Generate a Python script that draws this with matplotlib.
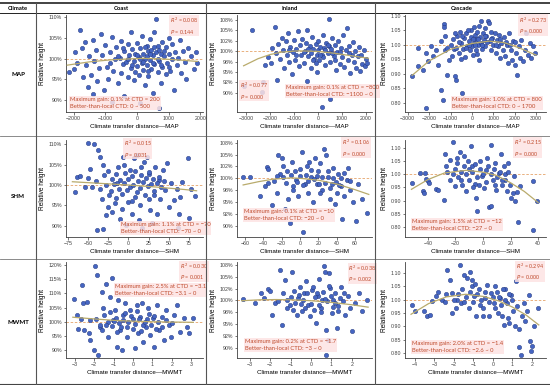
import numpy as np
import matplotlib
matplotlib.use("Agg")
import matplotlib.pyplot as plt
from matplotlib.lines import Line2D

W, H = 550, 385

# ---------------- data ----------------
columns = ["Coast", "Inland", "Cascade"]
rows = ["MAP", "SHM", "MWMT"]

# Coast / MAP  (relative height in %)
coast_map_pts = [
    (-2150, 96.8), (-2000, 97.5), (-1950, 101.5), (-1900, 99.0), (-1800, 106.8), (-1750, 102.5),
    (-1700, 95.5), (-1650, 104.0), (-1600, 98.5), (-1550, 93.2), (-1500, 100.5), (-1450, 96.0),
    (-1400, 104.5), (-1400, 91.5), (-1350, 99.5), (-1300, 102.0), (-1250, 94.5), (-1200, 97.8),
    (-1150, 106.0), (-1100, 100.8), (-1050, 92.5), (-1000, 103.2), (-950, 98.0), (-900, 95.0),
    (-850, 101.5), (-800, 105.2), (-800, 89.5), (-750, 97.0), (-700, 99.8), (-650, 102.8),
    (-600, 94.0), (-550, 100.2), (-500, 104.2), (-500, 96.5), (-450, 98.8), (-400, 101.8),
    (-400, 91.0), (-350, 99.2), (-300, 103.5), (-300, 95.5), (-250, 100.8), (-200, 97.8),
    (-200, 106.5), (-150, 102.2), (-100, 99.5), (-100, 94.8), (-50, 101.0), (0, 98.2),
    (0, 103.8), (50, 100.3), (50, 96.0), (100, 102.5), (100, 89.2), (150, 99.0), (150, 105.5),
    (200, 101.2), (200, 97.2), (250, 100.0), (250, 93.5), (300, 103.0), (300, 98.5), (350, 101.8),
    (350, 95.8), (400, 99.6), (400, 104.8), (450, 102.0), (450, 97.5), (500, 100.8), (500, 91.8),
    (550, 98.8), (550, 106.3), (600, 109.5), (600, 101.5), (650, 96.8), (650, 103.0), (700, 99.5),
    (700, 88.0), (750, 101.2), (750, 94.2), (800, 98.0), (800, 104.0), (850, 100.5), (900, 102.8),
    (900, 96.2), (950, 99.0), (1000, 105.0), (1000, 101.0), (1050, 97.0), (1100, 103.5),
    (1100, 99.8), (1150, 92.5), (1200, 101.5), (1250, 98.5), (1300, 100.2), (1350, 104.5),
    (1400, 96.5), (1450, 101.8), (1500, 99.2), (1550, 95.0), (1600, 102.5), (1700, 100.5),
    (1800, 97.5), (1850, 101.5), (1900, 99.0), (-600, 100.5), (-300, 100.0), (-150, 98.5),
    (0, 100.8), (100, 99.8), (200, 99.2), (300, 100.6), (400, 101.0), (500, 99.0), (650, 100.0),
    (750, 98.5), (850, 101.8), (1000, 98.0), (-850, 99.0), (-450, 102.5), (250, 102.8),
    (550, 102.8), (350, 97.0), (-50, 96.8), (700, 102.0),
]
coast_map_fit = [(-2200, 98.4), (-1500, 99.2), (-800, 99.7), (0, 100.0), (200, 100.05),
                 (800, 99.9), (1400, 99.6), (1900, 99.3)]

# Inland / MAP  (%)
inland_map_pts = [
    (-3100, 91.7), (-2750, 105.2), (-2350, 90.3), (-2300, 92.6), (-2200, 96.8), (-2100, 98.5),
    (-1950, 97.2), (-1900, 100.8), (-1800, 105.7), (-1750, 99.5), (-1700, 93.2), (-1650, 101.8),
    (-1600, 98.2), (-1500, 103.2), (-1450, 100.2), (-1400, 96.0), (-1350, 102.5), (-1300, 99.0),
    (-1250, 104.3), (-1200, 97.5), (-1150, 101.0), (-1100, 94.5), (-1050, 99.8), (-1000, 102.8),
    (-950, 98.0), (-900, 100.5), (-850, 104.8), (-800, 96.5), (-750, 101.5), (-700, 99.2),
    (-650, 103.0), (-600, 97.2), (-550, 100.0), (-500, 102.0), (-450, 105.2), (-450, 92.8),
    (-400, 98.8), (-350, 101.2), (-300, 99.5), (-300, 96.0), (-250, 103.5), (-200, 100.6),
    (-150, 98.2), (-100, 101.8), (-50, 99.0), (-50, 95.0), (0, 102.5), (0, 100.2), (50, 97.8),
    (100, 101.0), (150, 99.2), (170, 86.5), (200, 103.8), (200, 98.5), (250, 100.8), (300, 96.8),
    (350, 102.0), (400, 99.5), (450, 107.7), (450, 101.2), (500, 88.5), (500, 97.5), (550, 100.5),
    (600, 103.2), (650, 98.8), (700, 101.5), (750, 95.5), (800, 99.8), (850, 102.5), (900, 97.0),
    (950, 100.8), (1000, 98.5), (1050, 103.8), (1100, 96.2), (1150, 100.2), (1200, 105.5),
    (1250, 98.0), (1300, 101.2), (1350, 94.8), (1400, 99.0), (1450, 102.2), (1500, 97.5),
    (1550, 100.0), (1600, 96.0), (1650, 98.8), (1700, 101.0), (1750, 95.2), (1800, 99.2),
    (1850, 97.0), (1900, 100.2), (1950, 96.5), (2000, 98.2), (2050, 97.2), (-600, 99.8),
    (-200, 98.0), (100, 99.2), (300, 100.2), (600, 99.5), (900, 99.8), (-900, 99.0), (-400, 100.5),
    (1300, 99.6), (700, 98.0), (400, 101.5), (-100, 97.2), (-1200, 100.2),
]
inland_map_fit = [(-3100, 96.5), (-2500, 98.2), (-2000, 99.2), (-1500, 99.8), (-800, 100.1),
                  (0, 99.95), (700, 99.5), (1400, 98.9), (2100, 98.3)]

# Cascade / MAP  (ratio)
cascade_map_pts = [
    (-2800, 0.892), (-2520, 0.926), (-2520, 0.989), (-2290, 0.914), (-2150, 0.783), (-2130, 0.972),
    (-2060, 0.943), (-1930, 0.995), (-1820, 0.963), (-1670, 0.983), (-1590, 0.932), (-1460, 1.012),
    (-1430, 0.846), (-1350, 0.811), (-1310, 1.072), (-1310, 1.061), (-1280, 1.029), (-1280, 0.983),
    (-1150, 0.897), (-1090, 0.949), (-1000, 1.000), (-935, 0.963), (-840, 0.985), (-810, 0.892),
    (-730, 0.880), (-690, 1.029), (-620, 0.972), (-580, 1.046), (-500, 1.006), (-470, 0.834),
    (-420, 0.985), (-370, 1.023), (-310, 0.960), (-260, 1.041), (-220, 0.997), (-160, 1.012),
    (-110, 0.983), (-60, 1.052), (-30, 1.027), (0, 0.995), (45, 0.966), (90, 1.008), (125, 1.035),
    (170, 0.983), (200, 1.020), (250, 1.043), (280, 1.000), (310, 0.949), (360, 1.027), (400, 1.006),
    (440, 1.084), (470, 0.985), (510, 1.041), (560, 1.018), (590, 1.058), (620, 0.995), (670, 1.029),
    (750, 1.084), (780, 1.077), (830, 1.012), (870, 1.046), (900, 0.983), (950, 1.023), (1000, 1.000),
    (1060, 1.041), (1110, 0.972), (1150, 1.018), (1210, 0.995), (1260, 1.035), (1310, 0.955),
    (1370, 1.008), (1430, 0.983), (1500, 1.027), (1560, 0.963), (1620, 1.000), (1680, 0.937),
    (1740, 1.041), (1810, 0.983), (1870, 0.949), (1930, 1.012), (1990, 0.932), (2070, 0.972),
    (2120, 0.897), (2180, 0.995), (2240, 0.955), (2310, 1.018), (2380, 0.943), (2460, 0.983),
    (2540, 1.041), (2620, 0.966), (2690, 1.006), (2770, 0.955), (2850, 0.995), (2960, 0.972),
    (-900, 1.020), (-750, 0.990), (-600, 1.010), (-450, 1.030), (-300, 0.990), (-150, 1.000),
    (50, 1.020), (150, 1.000), (300, 1.020), (450, 1.000), (600, 1.030), (700, 1.010), (900, 1.020),
    (1100, 1.000), (1300, 1.020), (1600, 1.010), (-800, 1.040), (-200, 1.050), (100, 1.060),
    (350, 1.065), (-1150, 0.990), (1800, 1.000), (2000, 1.010), (-500, 0.950), (250, 0.970),
]
cascade_map_fit = [(-2800, 0.895), (-2000, 0.945), (-1000, 0.985), (0, 1.005), (800, 1.013),
                   (1500, 1.008), (2200, 0.990), (3000, 0.965)]

# Coast / SHM  (%)
coast_shm_pts = [
    (-66.7, 98.3), (-63.8, 102.0), (-60.4, 102.2), (-54.2, 99.6), (-50.8, 101.6), (-47.9, 104.0),
    (-50.0, 110.2), (-42.5, 110.0), (-39.6, 88.9), (-32.0, 89.2), (-37.5, 108.5), (-35.4, 106.9),
    (-31.3, 104.9), (-27.9, 92.6), (-25.0, 94.7), (-23.8, 97.5), (-20.8, 93.4), (-16.7, 95.5),
    (-14.6, 100.4), (-12.5, 104.4), (-10.4, 91.8), (-8.3, 94.2), (-6.3, 106.9), (-2.9, 90.2),
    (0.0, 95.9), (2.1, 103.6), (4.2, 93.0), (6.3, 106.5), (8.3, 97.1), (10.4, 107.3), (12.5, 91.4),
    (14.6, 95.1), (16.7, 89.6), (18.8, 105.7), (22.9, 106.9), (25.0, 102.8), (27.1, 93.8),
    (29.2, 90.6), (31.3, 97.5), (33.3, 104.4), (35.4, 93.0), (37.5, 101.2), (39.6, 96.7),
    (42.9, 103.6), (45.8, 98.7), (47.9, 105.3), (50.0, 94.7), (52.9, 100.4), (56.3, 96.3),
    (60.4, 99.1), (62.5, 93.0), (64.6, 97.1), (66.7, 100.8), (62.0, 89.5), (74.0, 106.5),
    (78.0, 99.0), (76.0, 92.0), (83.0, 97.2), (-40, 101.0), (-35, 99.0), (-30, 102.5), (-28, 100.0),
    (-25, 103.5), (-22, 98.5), (-20, 101.5), (-18, 100.2), (-15, 102.8), (-12, 99.0), (-10, 101.2),
    (-8, 97.8), (-6, 100.5), (-4, 103.0), (-2, 98.8), (0, 101.5), (2, 99.5), (4, 102.2), (6, 100.0),
    (8, 103.5), (10, 98.2), (12, 101.0), (14, 99.2), (16, 102.5), (18, 100.8), (20, 97.5),
    (22, 101.8), (24, 99.8), (26, 103.2), (28, 100.3), (30, 101.5), (32, 98.5), (35, 100.5),
    (38, 102.0), (40, 99.5), (44, 101.0), (-45, 99.5), (-33, 96.5), (-15, 96.8), (5, 96.2),
    (25, 96.5), (-5, 104.8), (15, 104.5),
]
coast_shm_fit = [(-70, 100.8), (-35, 100.4), (0, 100.0), (35, 99.5), (70, 98.9), (85, 98.6)]

# Inland / SHM  (%)
inland_shm_pts = [
    (-61.8, 100.2), (-54.5, 100.2), (-43.6, 96.3), (-38.2, 98.3), (-36.4, 102.3), (-34.5, 101.9),
    (-30.2, 94.3), (-25.5, 96.9), (-23.6, 104.9), (-20.0, 104.2), (-18.2, 100.2), (-16.4, 93.6),
    (-14.5, 101.6), (-12.7, 95.6), (-10.9, 90.5), (-9.1, 103.5), (-7.3, 98.3), (-4.7, 99.6),
    (-2.5, 96.3), (0.0, 102.0), (2.5, 105.5), (3.6, 88.7), (5.5, 98.9), (7.3, 102.5), (9.1, 96.9),
    (12.0, 100.2), (14.5, 94.9), (16.4, 104.2), (18.2, 98.9), (20.0, 101.6), (21.8, 103.2),
    (24.4, 97.6), (26.5, 106.3), (28.0, 104.9), (30.2, 100.2), (32.7, 95.6), (34.5, 98.9),
    (36.4, 102.2), (38.2, 94.6), (40.0, 96.9), (41.8, 100.9), (44.7, 98.3), (46.2, 91.3),
    (48.4, 96.3), (50.9, 99.6), (52.7, 102.2), (54.5, 97.6), (58.2, 94.9), (60.7, 91.0),
    (63.6, 98.9), (67.3, 95.6), (72.7, 92.6), (-28, 99.5), (-22, 101.0), (-15, 99.0), (-10, 100.8),
    (-6, 101.5), (-3, 99.2), (0, 100.5), (3, 98.5), (6, 100.8), (9, 99.5), (12, 101.8), (15, 99.8),
    (18, 100.5), (21, 98.8), (24, 100.2), (27, 99.0), (30, 101.5), (33, 98.0), (36, 100.0),
    (39, 99.2), (42, 98.5), (-18, 102.5), (-8, 97.5), (10, 103.5), (22, 97.0), (45, 100.0),
    (-35, 99.0), (-25, 100.5), (55, 99.5), (48, 101.2),
]
inland_shm_fit = [(-62, 98.6), (-45, 99.3), (-30, 99.8), (-10, 100.1), (0, 100.0), (20, 99.6),
                  (40, 98.8), (60, 97.6), (75, 96.6)]

# Cascade / SHM  (ratio)
cascade_shm_pts = [
    (-51.6, 0.965), (-46.0, 1.003), (-42.4, 1.003), (-41.7, 0.982), (-43.6, 0.938), (-42.9, 0.929),
    (-40.0, 0.973), (-39.5, 0.967), (-33.9, 0.944), (-32.7, 0.942), (-28.4, 0.904), (-27.9, 1.075),
    (-26.7, 1.030), (-24.2, 1.053), (-21.8, 1.124), (-20.6, 0.954), (-18.7, 1.043), (-17.0, 1.084),
    (-15.8, 0.980), (-13.8, 1.068), (-12.1, 0.935), (-10.4, 1.020), (-8.5, 1.109), (-8.0, 1.030),
    (-6.1, 0.963), (-4.8, 0.910), (-4.1, 0.859), (-2.4, 1.049), (-0.7, 0.992), (0.7, 0.948),
    (2.4, 1.018), (4.1, 0.876), (5.6, 0.881), (6.1, 1.110), (7.3, 0.980), (8.5, 1.043), (9.7, 0.942),
    (11.4, 1.005), (12.8, 1.075), (13.8, 0.961), (15.3, 1.030), (16.2, 0.980), (17.7, 0.935),
    (18.2, 1.043), (19.4, 0.961), (20.6, 0.910), (21.8, 0.929), (22.5, 0.992), (23.5, 0.897),
    (25.0, 0.932), (25.5, 0.818), (26.7, 0.954), (36.4, 0.973), (39.5, 0.897), (36.4, 0.787),
    (-22, 1.00), (-20, 1.02), (-18, 0.99), (-16, 1.01), (-14, 1.03), (-12, 1.00), (-10, 0.98),
    (-8, 1.01), (-6, 1.04), (-4, 0.99), (-2, 1.02), (0, 1.00), (2, 0.97), (4, 1.03), (6, 1.00),
    (8, 1.02), (10, 0.99), (12, 1.01), (14, 0.98), (16, 1.00), (-19, 1.06), (-15, 0.96), (-11, 1.05),
    (-3, 0.96), (3, 1.06), (9, 0.96), (-24, 0.98), (-26, 1.01), (18, 1.01), (-7, 0.95),
]
cascade_shm_fit = [(-52, 0.943), (-40, 0.980), (-28, 1.005), (-12, 1.015), (0, 1.008),
                   (10, 0.995), (20, 0.968), (30, 0.935), (40, 0.893)]

# Coast / MWMT  (%)
coast_mwmt_pts = [
    (-3.05, 108.2), (-2.9, 102.4), (-2.83, 97.3), (-2.64, 112.9), (-2.6, 106.5), (-2.5, 97.1),
    (-2.36, 107.1), (-2.26, 95.9), (-2.19, 93.5), (-1.97, 119.6), (-1.88, 116.5), (-2.0, 90.0),
    (-1.79, 88.2), (-1.71, 98.2), (-1.62, 110.6), (-1.53, 104.7), (-1.4, 113.5), (-1.28, 94.5),
    (-1.19, 108.8), (-1.1, 115.6), (-1.05, 100.6), (-0.93, 104.1), (-0.84, 91.2), (-0.76, 107.6),
    (-0.67, 97.1), (-0.59, 90.0), (-0.5, 102.4), (-0.41, 106.5), (-0.33, 94.7), (-0.24, 100.0),
    (-0.16, 104.1), (-0.02, 97.6), (0.1, 90.9), (0.19, 105.9), (0.28, 95.9), (0.36, 101.8),
    (0.45, 106.7), (0.53, 92.9), (0.67, 98.2), (0.79, 104.7), (0.88, 95.3), (1.02, 101.2),
    (1.09, 91.2), (1.22, 105.9), (1.36, 97.1), (1.48, 101.8), (1.57, 93.5), (1.71, 104.1),
    (1.83, 98.8), (1.95, 94.7), (2.09, 102.4), (2.26, 105.9), (2.43, 96.5), (2.6, 101.2),
    (2.78, 98.2), (2.9, 96.0), (3.1, 101.5), (-1.9, 101.0), (-1.7, 99.0), (-1.5, 102.5),
    (-1.3, 100.0), (-1.1, 98.5), (-0.9, 101.5), (-0.7, 99.5), (-0.5, 100.5), (-0.3, 98.0),
    (-0.1, 102.0), (0.1, 99.2), (0.3, 101.0), (0.5, 98.8), (0.7, 100.8), (0.9, 99.0), (1.1, 102.2),
    (1.3, 100.0), (1.5, 98.2), (1.7, 100.5), (-1.6, 97.0), (-1.2, 103.5), (-0.8, 96.5),
    (-0.4, 103.0), (0.0, 101.0), (0.4, 96.8), (0.8, 102.8), (1.2, 97.5), (-2.2, 100.5),
    (-2.7, 101.0), (2.0, 99.5), (-1.0, 100.2), (0.6, 100.0), (-0.6, 98.2), (0.2, 103.8), (-1.4, 99.0),
]
coast_mwmt_fit = [(-3.1, 101.6), (-2, 101.0), (-1, 100.5), (0, 100.2), (1, 100.0), (2, 99.9),
                  (3.1, 99.8)]

# Inland / MWMT  (%)
inland_mwmt_pts = [
    (-3.33, 100.3), (-2.75, 99.5), (-2.43, 101.6), (-2.3, 100.5), (-2.13, 102.4), (-2.02, 101.9),
    (-1.9, 97.0), (-1.77, 99.5), (-1.64, 99.8), (-1.52, 106.5), (-1.44, 94.9), (-1.36, 101.6),
    (-1.28, 104.4), (-1.2, 98.4), (-1.03, 99.1), (-0.92, 106.1), (-0.82, 101.9), (-0.7, 97.0),
    (-0.62, 100.5), (-0.54, 102.9), (-0.43, 97.7), (-0.33, 101.6), (-0.26, 104.0), (-0.16, 99.1),
    (-0.05, 96.7), (0.03, 102.3), (0.16, 98.1), (0.23, 95.3), (0.33, 100.9), (0.39, 104.5),
    (0.49, 98.4), (0.56, 100.2), (0.66, 107.2), (0.69, 105.9), (0.72, 88.6), (0.75, 93.8),
    (0.85, 91.6), (0.89, 105.8), (0.95, 102.6), (1.02, 97.4), (1.1, 100.2), (1.18, 101.6),
    (1.26, 94.2), (1.34, 98.8), (1.48, 102.9), (1.59, 99.8), (1.67, 97.0), (1.8, 100.9),
    (1.92, 98.4), (2.03, 93.5), (2.16, 99.5), (2.33, 101.6), (2.49, 97.7), (2.74, 100.2),
    (-1.0, 100.8), (-0.8, 99.5), (-0.6, 101.2), (-0.4, 100.0), (-0.2, 101.5), (0.0, 99.2),
    (0.2, 100.8), (0.4, 99.0), (0.6, 101.8), (0.8, 99.8), (1.0, 101.0), (1.2, 99.4), (1.4, 100.6),
    (-0.9, 98.0), (-0.3, 98.5), (0.1, 102.8), (0.5, 97.5), (0.9, 103.0), (1.3, 97.8), (-1.2, 100.2),
    (1.6, 101.5), (0.3, 101.5), (-0.5, 99.2), (0.7, 100.4), (1.1, 98.6),
]
inland_mwmt_fit = [(-3.4, 99.95), (-2.5, 100.15), (-1.7, 100.2), (-1, 100.15), (0, 99.95),
                   (1, 99.6), (2, 99.1), (2.8, 98.6)]

# Cascade / MWMT  (ratio)
cascade_mwmt_pts = [
    (-4.13, 0.981), (-4.0, 0.956), (-3.52, 0.956), (-3.4, 0.938), (-3.22, 0.944), (-3.14, 0.994),
    (-2.93, 1.013), (-2.8, 1.028), (-2.59, 1.000), (-2.45, 0.990), (-2.37, 1.110), (-2.2, 1.075),
    (-2.11, 0.950), (-2.08, 1.025), (-1.85, 1.000), (-1.68, 1.131), (-1.63, 0.988), (-1.46, 1.094),
    (-1.34, 1.081), (-1.25, 0.969), (-1.17, 1.103), (-1.08, 1.075), (-0.99, 1.013), (-0.87, 0.938),
    (-0.74, 1.038), (-0.65, 0.981), (-0.53, 0.938), (-0.43, 1.006), (-0.31, 1.056), (-0.19, 0.938),
    (-0.09, 1.025), (0.03, 0.988), (0.12, 1.050), (0.26, 0.950), (0.38, 1.006), (0.46, 0.938),
    (0.55, 0.906), (0.6, 1.038), (0.72, 0.988), (0.77, 0.931), (0.84, 0.913), (0.94, 1.019),
    (1.01, 0.956), (1.11, 0.900), (1.18, 1.069), (1.25, 0.975), (1.32, 0.890), (1.36, 0.822),
    (1.46, 0.794), (1.49, 0.938), (1.58, 0.988), (1.66, 0.919), (1.75, 0.956), (1.84, 1.019),
    (1.92, 0.844), (1.97, 0.806), (2.0, 0.825), (2.09, 0.900), (2.32, 0.969),
    (-2.0, 1.00), (-1.8, 1.02), (-1.6, 1.04), (-1.4, 1.01), (-1.2, 1.03), (-1.0, 0.99), (-0.8, 1.02),
    (-0.6, 1.00), (-0.4, 1.03), (-0.2, 0.99), (0.0, 1.01), (0.2, 1.03), (0.4, 0.98), (0.6, 1.00),
    (0.8, 1.02), (-1.9, 0.97), (-1.1, 1.05), (-0.5, 0.97), (0.1, 0.97), (0.5, 1.04), (-0.9, 1.06),
    (-1.5, 0.99), (-2.4, 1.02), (0.3, 1.01), (1.0, 1.00),
]
cascade_mwmt_fit = [(-4.2, 0.945), (-3.3, 0.985), (-2.4, 1.010), (-1.4, 1.020), (-0.5, 1.012),
                    (0.3, 0.995), (1.0, 0.972), (1.7, 0.942), (2.35, 0.905)]

# tick values and labels
x_ticks = {
    ("Coast", "MAP"): [-2000, -1000, 0, 1000, 2000],
    ("Inland", "MAP"): [-3000, -2000, -1000, 0, 1000, 2000],
    ("Cascade", "MAP"): [-3000, -2000, -1000, 0, 1000, 2000, 3000],
    ("Coast", "SHM"): [-75, -50, -25, 0, 25, 50, 75],
    ("Inland", "SHM"): [-60, -40, -20, 0, 20, 40, 60],
    ("Cascade", "SHM"): [-40, -20, 0, 20, 40],
    ("Coast", "MWMT"): [-3, -2, -1, 0, 1, 2, 3],
    ("Inland", "MWMT"): [-3, -2, -1, 0, 1, 2],
    ("Cascade", "MWMT"): [-4, -3, -2, -1, 0, 1, 2],
}
pct5_ticks = [90, 95, 100, 105, 110]
pct5_labels = ["90%", "95%", "100%", "105%", "110%"]
mwmt_coast_ticks = [90, 95, 100, 105, 110, 115, 120]
mwmt_coast_labels = ["90%", "95%", "100%", "105%", "110%", "115%", "120%"]
pct25_ticks = [90, 92.5, 95, 97.5, 100, 102.5, 105, 107.5]
pct25_labels = ["90%", "92%", "95%", "98%", "100%", "102%", "105%", "108%"]
ratio_ticks = [0.80, 0.85, 0.90, 0.95, 1.00, 1.05, 1.10]
ratio_labels = ["0.80", "0.85", "0.90", "0.95", "1.00", "1.05", "1.10"]

stats = {
    ("Coast", "MAP"): ("0.008", "0.144", "0.1%", "200", "0 ~ 500"),
    ("Inland", "MAP"): ("0.077", "0.000", "0.1%", "\u2212800", "\u22121100 ~ 0"),
    ("Cascade", "MAP"): ("0.273", "0.000", "1.0%", "800", "0 ~ 1700"),
    ("Coast", "SHM"): ("0.015", "0.031", "1.1%", "\u221270", "\u221270 ~ 0"),
    ("Inland", "SHM"): ("0.106", "0.000", "0.1%", "\u221210", "\u221220 ~ 0"),
    ("Cascade", "SHM"): ("0.215", "0.000", "1.5%", "\u221212", "\u221227 ~ 0"),
    ("Coast", "MWMT"): ("0.030", "0.001", "2.5%", "\u22123.1", "\u22123.1 ~ 0"),
    ("Inland", "MWMT"): ("0.038", "0.002", "0.2%", "\u22121.7", "\u22123 ~ 0"),
    ("Cascade", "MWMT"): ("0.294", "0.000", "2.0%", "\u22121.4", "\u22122.6 ~ 0"),
}

# ---------------- layout (pixels) ----------------
col_px = {"Coast": (66, 203), "Inland": (237, 372), "Cascade": (405, 546)}
row_px = {"MAP": (15, 112), "SHM": (140, 237), "MWMT": (262, 358)}

limits = {
    ("Coast", "MAP"): ((-2240, 2080), (87.1, 110.5)),
    ("Inland", "MAP"): ((-3375, 2250), (85.4, 108.7)),
    ("Cascade", "MAP"): ((-3130, 3460), (0.769, 1.103)),
    ("Coast", "SHM"): ((-78, 93), (87.3, 111.0)),
    ("Inland", "SHM"): ((-68.7, 78.5), (87.6, 108.1)),
    ("Cascade", "SHM"): ((-56.7, 45.8), (0.762, 1.130)),
    ("Coast", "MWMT"): ((-3.45, 3.6), (87.2, 121.1)),
    ("Inland", "MWMT"): ((-3.63, 2.99), (87.9, 108.1)),
    ("Cascade", "MWMT"): ((-4.51, 2.72), (0.781, 1.141)),
}

# (x, y) axes-fraction centres of the R2 block and the gain block
text_pos = {
    ("Coast", "MAP"): ((0.76, 0.89), (0.03, 0.09)),
    ("Inland", "MAP"): ((0.02, 0.22), (0.36, 0.215)),
    ("Cascade", "MAP"): ((0.81, 0.895), (0.335, 0.09)),
    ("Coast", "SHM"): ((0.42, 0.91), (0.40, 0.09)),
    ("Inland", "SHM"): ((0.78, 0.92), (0.054, 0.225)),
    ("Cascade", "SHM"): ((0.77, 0.92), (0.05, 0.128)),
    ("Coast", "MWMT"): ((0.83, 0.90), (0.36, 0.705)),
    ("Inland", "MWMT"): ((0.825, 0.88), (0.06, 0.135)),
    ("Cascade", "MWMT"): ((0.785, 0.90), (0.05, 0.115)),
}

points = {
    ("Coast", "MAP"): (coast_map_pts, coast_map_fit),
    ("Inland", "MAP"): (inland_map_pts, inland_map_fit),
    ("Cascade", "MAP"): (cascade_map_pts, cascade_map_fit),
    ("Coast", "SHM"): (coast_shm_pts, coast_shm_fit),
    ("Inland", "SHM"): (inland_shm_pts, inland_shm_fit),
    ("Cascade", "SHM"): (cascade_shm_pts, cascade_shm_fit),
    ("Coast", "MWMT"): (coast_mwmt_pts, coast_mwmt_fit),
    ("Inland", "MWMT"): (inland_mwmt_pts, inland_mwmt_fit),
    ("Cascade", "MWMT"): (cascade_mwmt_pts, cascade_mwmt_fit),
}

DOT_FACE = "#4565c2"
DOT_EDGE = "#1f3275"
FIT_COLOR = "#b9ab6c"
REF_COLOR = "#e5a36a"
NOTE_COLOR = "#bf4a2c"
NOTE_BG = "#fde3e3"
AXIS_COLOR = "#404040"

plt.rcParams["font.family"] = ["Liberation Sans", "DejaVu Sans"]
NOTE_FONT = ["Lato", "DejaVu Sans"]


def _fx(x):
    return x / W


def _fy(y):
    return 1 - y / H


def _rule(fig, x0, y0, x1, y1, lw=0.8, color="#555555"):
    fig.add_artist(Line2D([_fx(x0), _fx(x1)], [_fy(y0), _fy(y1)],
                          transform=fig.transFigure, lw=lw, color=color))


def _y_ticks(col, row):
    if col == "Cascade":
        return ratio_ticks, ratio_labels
    if col == "Inland":
        return pct25_ticks, pct25_labels
    if row == "MWMT":
        return mwmt_coast_ticks, mwmt_coast_labels
    return pct5_ticks, pct5_labels


fig = plt.figure(figsize=(W / 100, H / 100), dpi=100)

for col in columns:
    for row in rows:
        key = (col, row)
        left, right = col_px[col]
        top, bottom = row_px[row]
        ax = fig.add_axes([_fx(left), _fy(bottom), (right - left) / W, (bottom - top) / H])
        pts, fit = points[key]
        pts = np.array(pts)
        fit = np.array(fit)
        ref = 1.0 if col == "Cascade" else 100.0

        ax.axhline(ref, color=REF_COLOR, lw=0.6, ls=(0, (3, 2)), zorder=1)
        ax.scatter(pts[:, 0], pts[:, 1], s=10, c=DOT_FACE, edgecolors=DOT_EDGE,
                   linewidths=0.3, zorder=2)
        ax.plot(fit[:, 0], fit[:, 1], color=FIT_COLOR, lw=0.9, zorder=3)

        (x0, x1), (y0, y1) = limits[key]
        ax.set_xlim(x0, x1)
        ax.set_ylim(y0, y1)
        ax.set_xticks(x_ticks[key])
        ax.set_xticklabels([str(v).replace("-", "\u2212") for v in x_ticks[key]])
        yt, yl = _y_ticks(col, row)
        ax.set_yticks(yt)
        ax.set_yticklabels(yl)
        ax.tick_params(labelsize=3.8, length=1.8, width=0.5, pad=1, colors=AXIS_COLOR)
        for side in ("top", "right"):
            ax.spines[side].set_visible(False)
        for side in ("left", "bottom"):
            ax.spines[side].set_linewidth(0.6)
            ax.spines[side].set_color(AXIS_COLOR)
        ax.set_xlabel("Climate transfer distance\u2014" + row, fontsize=4.5, labelpad=2)
        ax.set_ylabel("Relative height", fontsize=4.7, labelpad=2)

        r2, p, gain, ctd, span = stats[key]
        (rx, ry), (gx, gy) = text_pos[key]
        ax.text(rx, ry, "$R^2$ = %s\n$P$ = %s" % (r2, p), transform=ax.transAxes,
                fontsize=3.9, color=NOTE_COLOR, family=NOTE_FONT, ha="left", va="center",
                linespacing=1.4, zorder=4,
                bbox=dict(boxstyle="square,pad=0.15", fc=NOTE_BG, ec="none", alpha=0.85))
        ax.text(gx, gy, "Maximum gain: %s at CTD = %s\nBetter-than-local CTD: %s" % (gain, ctd, span),
                transform=ax.transAxes, fontsize=4.2, color=NOTE_COLOR, family=NOTE_FONT,
                ha="left", va="center", linespacing=1.5, zorder=4,
                bbox=dict(boxstyle="square,pad=0.15", fc=NOTE_BG, ec="none", alpha=0.85))

# table rules and headers
_rule(fig, 0, 3, W, 3, lw=1.2, color="#222222")
_rule(fig, 0, 13, W, 13, lw=0.7, color="#222222")
_rule(fig, 0, 136, W, 136, lw=0.6, color="#777777")
_rule(fig, 0, 259, W, 259, lw=0.6, color="#777777")
_rule(fig, 0, 384, W, 384, lw=0.8, color="#444444")
for xv in (36, 206, 375):
    _rule(fig, xv, 3, xv, 385, lw=0.8, color="#555555")

header_x = {"Coast": 121, "Inland": 290, "Cascade": 462}
fig.text(_fx(18), _fy(8), "Climate", ha="center", va="center", fontsize=4.2,
         weight="bold", family=NOTE_FONT)
for col in columns:
    fig.text(_fx(header_x[col]), _fy(8), col, ha="center", va="center", fontsize=4.2,
             weight="bold", family=NOTE_FONT)
row_y = {"MAP": 74, "SHM": 197, "MWMT": 322}
for row in rows:
    fig.text(_fx(18), _fy(row_y[row]), row, ha="center", va="center", fontsize=4.4,
             weight="bold", family=NOTE_FONT)

fig.savefig("out.png", dpi=100)
